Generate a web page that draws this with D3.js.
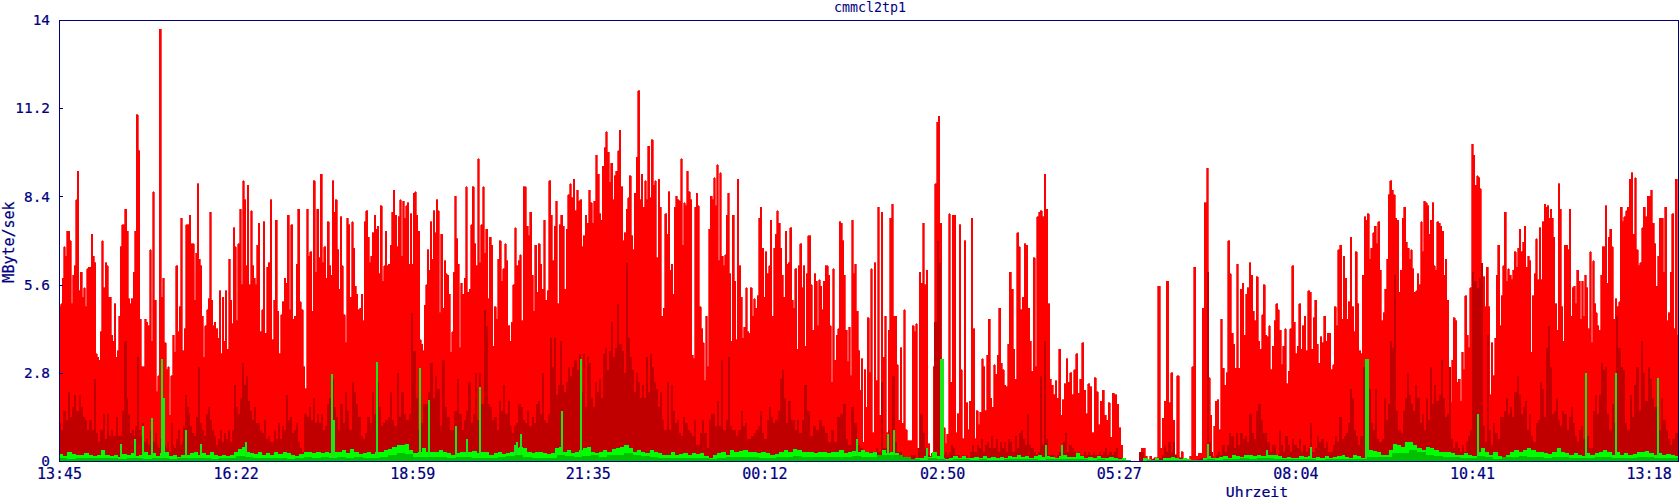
<!DOCTYPE html>
<html>
<head>
<meta charset="utf-8">
<title>cmmcl2tp1</title>
<script src="https://cdn.jsdelivr.net/npm/d3@7"></script>
<style>
  html, body { margin: 0; padding: 0; background: #fff; }
  text { font-family: "DejaVu Sans Mono", monospace; fill: #000080; }
  .heavy text, text.heavy { stroke: #000080; stroke-width: 0.2px; }
</style>
</head>
<body>
<svg id="chart" width="1680" height="500"></svg>
<script>
// Tick labels and values
const timeLabels = ["13:45", "16:22", "18:59", "21:35", "00:12", "02:50", "05:27", "08:04", "10:41", "13:18"];
const yTicks = [0, 2.8, 5.6, 8.4, 11.2, 14];

// Total throughput (MByte/sek), one list per hour of the 24h window
const redByHour = [
  [4.9,5.0,5.8,6.8,6.5,7.3,7.3,7.0,5.0,5.9,6.2,8.3,9.2,5.4,6.0,5.2,5.5,4.9,6.1,6.15,6.15,7.2,6.5,6.3,3.4,3.3,3.2,4.1,7.0,5.5,6.3,6.2,5.2,5.2,4.0,3.8,5.0,3.3,3.5,4.6,6.8,7.5,7.5,8.0],
  [7.3,5.15,5.0,5.15,6.0,7.3,11.0,9.85,4.5,3.0,3.0,4.5,4.4,4.3,6.7,3.8,8.55,5.1,2.2,2.7,13.7,5.2,5.8,3.75,2.9,3.0,1.45,2.7,4.0,3.45,6.2,4.1,4.9,7.7,3.5,4.2,7.5,7.5,7.8,6.9,6.9],
  [5.1,6.6,8.8,6.4,6.2,4.6,3.3,4.3,4.8,5.15,7.9,5.1,4.3,4.4,4.2,3.9,5.4,3.4,5.2,3.8,5.4,3.55,6.4,5.1,4.35,7.4,6.8,4.45,6.9,8.0,5.6,8.9,8.3,6.2,8.75,5.6,7.95,6.2,5.8,5.6,6.85,7.55,4.1],
  [4.8,7.6,4.05,6.15,6.3,8.3,3.85,5.1,7.65,4.75,3.4,4.65,5.05,5.8,5.65,7.8,4.8,7.5,4.5,4.6,6.25,8.0,5.05,4.8,3.0,2.3,8.0,6.5,6.65,4.75,8.9,6.0,8.0,6.45,9.1,6.3,6.8,5.8,7.6],
  [6.2,5.9,8.9,7.9,8.3,6.7,5.45,7.75,6.2,4.65,3.75,7.7,7.5,5.2,7.6,6.75,5.55,5.3,4.8,4.85,5.3,4.45,7.6,7.95,7.1,6.3,6.5,7.25,7.8,7.35,7.45,5.95,8.1,5.7,6.2,7.3,6.2,6.25,6.85,7.9,8.6,7.8],
  [6.8,7.75,8.3,6.5,8.25,7.7,8.1,8.2,6.25,7.85,6.25,8.5,8.55,7.8,7.3,3.85,3.7,3.5,4.95,5.6,6.7,6.05,7.6,6.4,7.95,7.25,8.3,7.95,4.7,7.2,4.85,6.35,5.95,5.9,5.3,3.45,4.1,6.0,8.4,7.05,6.25,3.6,5.65,5.3],
  [5.8,8.7,5.35,5.45,7.5,8.7,6.9,6.2,9.6,6.3,7.5,8.7,6.6,7.35,5.15,7.1,6.85,3.65,4.9,4.5,6.4,7.0,5.7,6.1,6.9,6.35,4.3,3.8,4.4,5.6,7.4,6.2,6.35,6.55,4.45,8.7,8.7,7.45,7.15,7.9],
  [5.9,4.75,6.85,5.35,6.9,6.25,5.45,7.65,5.1,5.4,8.9,7.8,6.35,7.45,8.25,5.0,7.5,7.8,7.45,5.45,7.35,8.45,8.8,8.35,8.95,7.95,8.6,8.25,8.3,6.8,7.15,7.8,7.55,8.6,8.2,7.55,8.25,9.7,9.1],
  [7.85,7.65,9.35,9.95,10.45,9.8,8.85,9.45,8.3,9.05,9.2,9.85,10.5,8.7,7.0,7.25,8.0,8.35,9.05,7.15,6.7,8.5,9.65,11.75,8.3,9.1,8.05,8.9,8.3,10.0,8.35,10.2,8.75,8.9,6.45,8.95,8.05,4.6,4.85,7.85],
  [7.2,8.55,6.05,6.25,5.3,8.05,8.4,8.3,8.25,9.6,6.85,8.2,8.1,9.2,8.55,8.3,3.35,3.25,8.05,8.5,8.1,4.9,4.2,3.75,2.55,4.6,3.0,7.35,8.4,8.3,9.0,8.1,9.4,6.35,9.15,6.5,6.2,6.55,7.8,8.5,5.95,3.8,7.8],
  [5.7,3.85,8.95,6.2,5.2,3.9,4.25,5.5,4.1,4.05,5.5,4.6,5.15,4.85,5.25,7.7,8.05,6.75,5.2,6.65,5.95,6.2,7.65,4.6,6.75,7.2,7.95,7.55,6.75,5.9,5.2,7.3,6.25,6.3,7.4,5.1,4.85,6.1,3.55,6.2,6.9],
  [5.5,6.2,3.65,5.95,7.15,7.15,5.6,4.15,5.95,5.7,4.3,5.75,5.55,4.8,5.7,6.2,6.2,5.9,4.3,2.5,6.1,3.2,4.0,4.2,7.6,7.55,7.0,5.9,4.15,3.15,4.25,2.7,7.65,5.95,6.25,4.75,3.5,2.25,3.25,0.6,2.9,1.7,4.55],
  [2.8,6.1,0.9,6.3,2.55,8.05,1.45,7.9,3.3,4.6,0.9,4.15,7.7,8.15,4.6,4.6,3.05,1.3,3.6,1.2,4.8,1.0,0.65,0.65,0.65,4.3,4.1,4.35,0.4,6.0,5.65,7.55,5.6,6.05,0.55,0.15,0.25,3.0,8.8],
  [10.75,10.95,7.55,1.5,1.05,0.55,0.85,7.85,2.5,7.8,7.8,0.9,1.5,7.5,2.9,0.7,7.0,1.85,1.0,1.9,7.7,4.2,0.7,1.6,1.15,1.55,3.25,3.0,1.6,3.35,4.5,2.0,1.7,3.05,2.75,3.35,4.85,3.1,2.9],
  [2.4,2.35,3.7,6.0,5.45,3.55,2.6,7.25,6.8,4.8,5.2,6.9,6.85,4.85,3.8,2.85,6.45,3.0,7.75,7.9,7.95,7.75,9.1,8.0,5.0,2.6,2.4,2.1,2.55,2.0,3.55,1.45,1.95,2.45,3.25,2.5,2.8],
  [2.1,2.9,3.4,2.15,2.6,3.75,2.25,1.5,2.45,2.35,0.9,2.65,2.2,1.15,1.9,2.25,1.45,1.3,1.85,0.75,2.15,2.1,1.8,1.05,0.5,0,0,0,0,0,0,0,0],
  [0,0.4,0.4,0.15,0.05,0.15,0.05,0.1,0.1,5.55,0.4,1.35,1.9,5.7,1.85,2.8,1.3,0.2,2.7,0.1,0.3,0.02,0.03,0.05,0.15,3.0,6.15,0.15,0.25,0.25,4.85,8.2],
  [9.3,2.65,1.45,0.15,1.1,1.9,1.95,1.0,4.5,2.95,2.4,2.8,7.0,5.95,4.05,3.7,2.95,6.25,2.95,5.45,5.65,4.0,5.3,5.5,6.3,5.9,4.75,4.45,5.85,3.8,3.55,4.65,5.6,4.0,3.95,4.3,2.9,3.65],
  [4.45,5.0,4.8,4.15,3.05,3.65,4.2,2.45,2.85,4.2,6.2,4.4,3.4,3.65,5.0,3.55,4.3,4.6,3.5,5.4,5.35,3.55,4.55,5.1,3.7,3.1,3.95,3.75,4.6,3.8,4.05,4.05,2.9,3.05,4.9,4.3,6.7,6.85],
  [4.5,6.5,5.8,4.5,5.05,7.1,4.9,4.1,6.65,5.0,3.5,3.4,5.9,7.75,7.65,7.85,6.4,6.75,7.25,7.45,6.9,7.6,6.05,4.45,4.7,5.45,6.4,8.45,8.9,8.6,8.45,7.7,7.65,5.35,6.05,7.7,8.05,6.95,6.75],
  [6.4,6.7,6.1,5.35,5.4,5.95,5.6,7.6,6.65,8.25,8.2,8.1,7.2,7.65,8.2,6.2,6.05,7.6,7.55,7.45,7.3,5.9,6.4,5.1,2.9,1.85,3.2,4.55,4.45,2.5,2.6,1.9,3.45,2.9,5.25,4.0,3.6,5.5,10.05,9.7,8.75],
  [9.05,9.0,8.65,5.85,5.85,4.9,6.15,4.9,2.1,3.75,2.7,3.9,5.9,6.85,4.3,5.25,6.2,7.9,5.7,6.1,5.9,5.75,6.05,6.65,6.15,6.75,7.35,6.65,6.95,7.45,6.15,6.5,6.35,3.45,5.25,5.95,7.05,5.75,7.4,5.75,7.6],
  [8.15,8.05,8.1,7.7,8.0,7.7,7.1,5.0,4.15,8.8,8.0,4.9,3.8,6.85,6.85,6.7,8.0,4.6,5.5,5.55,5.0,6.05,5.7,4.5,5.7,4.6,5.9,5.5,4.2,6.65,3.75,6.35,5.0,4.7,4.3,4.15,5.9,6.8,6.8,8.1,5.65,7.1,7.35],
  [6.8,4.5,5.15,4.9,5.05,8.05,7.6,7.75,7.95,8.05,8.95,9.15,7.2,9.0,6.7,6.2,6.3,7.4,8.05,7.75,8.4,8.4,8.6,7.55,6.9,5.55,6.5,7.7,7.7,6.0,8.05,4.45,4.7,6.0,7.85,4.2,8.95,4.0]
];

// Second series (dark red)
const darkRedByHour = [
  [1.2,1.0,1.6,1.3,2.2,1.4,1.7,2.1,1.6,2.1,1.7,1.4,1.3,1.0,1.3,1.0,2.6,0.9,0.6,1.0,1.5,0.7,1.5,0.8,1.0,0.8,1.4,0.8,0.8,1.6,3.8],
  [2.0,1.5,0.9,1.0,0.8,1.1,3.3,1.0,0.8,1.2,0.6,0.7,0.5,1.0,0.5,0.6,0.9,0.5,0.4,0.7,1.3,0.5,0.4,0.6,0.3,1.2,0.5,0.4,0.7,1.0,0.5,0.6,1.1,2.1,1.7,1.5,1.1,0.9],
  [0.8,1.4,3.0,1.2,1.0,0.8,1.5,1.7,1.3,1.0,0.8,0.5,0.7,1.0,0.6,0.9,0.7,1.0,0.6,1.0,2.4,1.7,1.5,2.0,3.1,2.4,2.7,1.9,1.6,1.3,1.7,1.2,1.2,1.0],
  [0.9,1.3,0.7,0.8,0.6,0.6,1.0,0.7,1.2,0.7,1.1,1.0,2.1,1.3,1.4,0.9,1.0,1.2,0.6,0.4,0.3,1.5,1.4,1.7,1.3,2.0,1.2,1.5,1.2,1.5,1.0,1.1,1.8],
  [2.0,2.6,1.7,1.4,1.0,1.8,1.2,2.2,1.6,1.0,2.5,2.2,1.8,1.4,0.8,0.7,0.9,1.4,1.2,2.2,1.5,2.5,1.7,1.1,1.2,1.3,1.4,2.2,1.3,1.1],
  [2.8,1.4,2.2,1.5,1.3,1.5,4.7,3.5,2.0,1.0,1.2,1.8,1.8,2.2,3.1,2.0,2.7,2.3,1.1,3.2,1.7,1.4,1.0,1.0,1.6,2.6,1.5,1.0],
  [1.3,1.6,2.5,1.2,1.5,2.8,1.3,2.8,1.8,4.8,4.3,1.8,1.7,1.3,1.4,1.0,1.9,1.6,2.4,1.5,1.9,1.1,0.9,1.1,1.2,1.8,1.7,1.3,1.2,1.6,1.1],
  [1.4,1.2,1.8,1.9,1.5,2.8,1.3,1.2,1.5,3.9,3.0,3.9,2.1,2.4,3.8,2.4,2.2,2.5,3.0,2.7,3.0,3.2,2.9,3.4,2.2,3.4,1.7,3.3,3.1,2.0,1.7,2.5,2.2],
  [2.6,2.0,3.4,3.6,2.9,3.5,4.4,3.3,3.6,5.0,3.7,3.5,2.8,6.3,3.9,3.3,2.9,2.2,2.8,2.5,2.0,2.4,2.0,3.3,2.2,3.4,3.0,2.5,2.3,1.7,2.2,1.3,1.0],
  [2.5,1.0,2.4,1.6,1.2,1.3,0.9,0.8,1.4,1.2,1.0,0.9,0.8,1.3,0.5,0.5,0.9,1.3,0.9,0.4,1.3,1.5,1.5,1.1,1.9,1.1,3.2,1.0,1.3,3.3,1.1,1.0],
  [1.0,0.8,1.0,1.6,1.1,1.2,0.7,0.7,0.8,0.9,1.0,1.1,1.6,0.9,0.7,1.3,1.7,1.4,1.2,1.3,1.6,2.6,2.9,2.0,1.2,1.9,1.3,1.3,1.0,1.3,0.9],
  [1.3,2.4,1.6,0.8,1.1,1.0,1.3,1.1,0.9,0.6,1.0,0.6,1.4,1.5,1.8,0.7,0.5,1.7,1.2,0.5,0.4,0.3,0.3],
  [0.3,0.3,0.2,0.4,0.3,2.5,0.4,0.4,1.0,0.3,2.7,0.6,0.3,0.3,0.2,0.1,0.1,0.1,0.2,0.2,0.1,0.4,1.5,0.9,0.4,0.2,0.1,0.1,4.4],
  [7.0,6.3,1.0,0.2,0.3,0.2,0.3,0.5,0.4,0.2,0.2,0.1,0.2,0.1,0.2,0.1,0.3,0.5,0.3,0.5,0.4,0.7,0.3,0.5,0.6,0.4,0.8,0.4,0.7,0.3,0.6,0.4],
  [0.6,0.3,0.7,0.6,0.3,0.8,0.4,0.9,1.0,0.7,0.5,1.5,0.5,0.4,0.3,0.2,0.3,2.7,0.5,3.8,0.7,0.2,0.2,0.2,0.1,0.2,0.3,0.2,0.6,0.9,0.3,0.5],
  [0.4,0.3,0.2,0.3,0.2,0.2,0.3,0.2,0.3,0.2,0.3,0.2,0.2,0.3,0.2,0.3,0.4,0.2,0.3,0.2,0.3,0.4,0.1,0.1,0,0,0,0,0,0,0,0],
  [0.3,0.3,0.1,0,0,0,0.05,0.1,0.05,0.1,0.2,0.5,0.3,0.6,0.3,0.6,0.2,0.1,0.1,0.05,0,0,0,0,0,0,0.05,0.1,0.1,0.1],
  [6.0,0.6,0.3,0.1,0.2,0.3,0.2,0.5,0.3,0.5,0.9,0.8,0.4,0.9,0.5,0.9,0.7,0.8,0.6,1.5,0.9,0.7,1.6,1.8,1.3,0.9,0.9,0.6,0.3,0.5],
  [0.5,0.2,1.0,0.5,0.3,0.8,0.5,0.3,0.7,0.5,0.4,0.7,0.3,0.5,0.3,0.4,1.2,0.3,0.4,0.8,0.6,0.7,0.4,0.6,0.3,0.3,0.5,0.8,0.6,1.4],
  [0.7,0.8,0.9,1.2,2.3,2.0,1.0,0.8,0.5,0.8,3.0,2.1,3.2,2.3,1.2,1.0,2.3,0.7,0.6,0.7,2.0,1.3,1.8,3.8,3.6,5.9,1.6,1.0,0.9,1.6,2.0,2.8],
  [2.1,1.8,1.6,2.4,2.0,1.2,1.5,1.0,2.0,1.3,3.0,1.8,2.4,1.9,2.1,3.2,2.0,1.4,1.5,3.0,0.7,0.4,0.6,0.4,0.3,0.5,0.3,0.6,0.8,1.0,6.0,5.7],
  [5.5,5.8,6.3,1.1,0.6,4.0,1.0,0.5,1.2,0.9,0.7,1.4,1.4,1.6,2.0,1.5,1.7,1.4,2.2,2.7,2.1,1.5,1.7,1.9,1.0,1.5,0.8,0.6,1.2,1.3,2.5,2.3],
  [1.4,3.6,4.3,3.0,1.5,1.6,2.0,1.3,1.1,1.6,1.5,1.0,1.4,1.7,1.2,0.8,0.6,1.0,1.1,0.7,0.6,0.8,0.4,0.4,1.6,2.1,1.5,2.1,3.1,2.9,3.0,1.5,1.0],
  [1.8,1.2,4.6,3.6,3.0,2.9,1.2,1.0,2.1,1.4,2.4,3.0,1.6,3.8,2.8,1.9,3.0,2.6,2.0,1.7,1.2,1.0,2.0,1.3,1.0,0.7,0.5,0.7,0.9,0.9]
];

// Bright green series
const greenByHour = [
  [.22,.15,.28,.22,.18,.2,.25,.2,.15,.18,.35,.2,.15,.2,.12,.22],
  [.2,.25,.15,.18,.3,.2,.25,.15,.25,.3,.15,.2,.12,.18,.2,.25],
  [.28,.2,.25,.18,.28,.2,.15,.18,.15,.2,.3,.38,.45,.3,.25,.22,.28],
  [.2,.25,.2,.3,.22,.28,.25,.18,.15,.22,.3,.28,.25,.3,.25,.3],
  [.25,.3,.28,.35,.25,.38,.3,.22,.25,.3,.22,.28,.3,.35,.38,.45],
  [.5,.5,.55,.35,.25,.3,.4,.3,.28,.3,.35,.3,.25,.2,.25,.3],
  [.3,.28,.32,.25,.28,.3,.2,.25,.3,.22,.25,.28,.4,.45,.4,.3],
  [.25,.3,.28,.25,.22,.25,.4,.45,.3,.35,.25,.3,.35,.4,.45,.3,.25],
  [.3,.35,.3,.38,.4,.45,.5,.4,.3,.35,.3,.25,.35,.3,.25,.2],
  [.2,.3,.2,.22,.25,.2,.25,.22,.25,.15,.1,.2,.25,.3,.2,.35],
  [.3,.32,.35,.3,.28,.25,.3,.25,.2,.22,.3,.35,.3,.38,.35],
  [.3,.28,.3,.25,.3,.28,.25,.3,.3,.35,.25,.3,.32,.3,.35,.3],
  [.25,.3,.2,.35,.25,.3,.25,.2,.1,.1,.05,.08,.1,.15,.12,.3],
  [.15,.08,.05,.1,.15,.1,.15,.1,.08,.12,.1,.15,.1,.12,.08,.12],
  [.1,.15,.12,.2,.12,.15,.1,.15,.2,.12,.15,.12,.1,.15,.2,.12],
  [.12,.25,.15,.1,.12,.1,.15,.08,.1,.12,.08,.05,.08,0,0,0],
  [0,.1,.05,0,.08,.03,.1,.08,.12,.1,.05,.08,.05,.02,.02,.03,.08],
  [.15,.1,.08,.12,.15,.1,.2,.15,.12,.18,.2,.15,.2,.15,.18,.2],
  [.18,.15,.1,.12,.08,.1,.15,.12,.15,.1,.12,.08,.15,.1,.12,.15],
  [.18,.12,.1,.2,.15,.1,.12,.35,.32,.3,.2,.18,.35,.55,.5,.45,.6],
  [.6,.5,.4,.35,.45,.4,.35,.3,.28,.3,.25,.2,.2,.25,.2,.15],
  [.3,.4,.3,.2,.3,.15,.1,.2,.3,.35,.3,.35,.4,.35,.3,.3],
  [.25,.22,.3,.4,.3,.25,.2,.25,.2,.15,.25,.2,.25,.3,.35,.3],
  [.2,.3,.2,.25,.2,.22,.28,.3,.32,.25,.2,.25,.2,.22,.2,.15]
];

// Dark green series
const darkGreenByHour = [
  [.1,.06,.1,.08,.08,.1,.08,.06],[.08,.1,.07,.1,.1,.07,.08,.1],[.1,.08,.07,.08,.1,.16,.14,.1],[.1,.1,.09,.07,.1,.12,.1,.12],
  [.1,.12,.1,.14,.1,.1,.12,.18],[.25,.22,.14,.12,.14,.12,.1,.12],[.12,.1,.1,.1,.12,.16,.18,.12],[.1,.1,.1,.18,.15,.12,.15,.18],
  [.14,.18,.2,.25,.2,.15,.14,.1],[.1,.1,.1,.1,.08,.05,.1,.12],[.14,.14,.12,.1,.1,.14,.14,.16],[.12,.12,.12,.14,.12,.14,.16,.14],
  [.12,.18,.2,.18,.12,.05,.04,.08],[.05,.03,.05,.05,.04,.05,.04,.04],[.05,.05,.06,.05,.04,.05,.06,.05],[.05,.06,.04,.05,.04,.03,.02,0],
  [0,.02,.03,.03,.04,.03,.02,.02],[.05,.04,.06,.06,.08,.07,.08,.08],[.07,.05,.05,.05,.05,.04,.05,.06],[.06,.05,.05,.14,.12,.12,.25,.25],
  [.35,.28,.2,.16,.14,.12,.1,.08],[.15,.12,.06,.14,.14,.16,.14,.12],[.1,.14,.12,.1,.08,.1,.14,.12],[.1,.1,.1,.14,.12,.1,.1,.08]
];

// Isolated green peaks
const spikeMinutes = [54, 67, 74, 82, 90.5, 92, 112, 125, 165, 242, 243.5, 282, 320, 328, 352, 362, 373, 404, 406, 410, 446, 463, 708, 736, 741, 771, 783, 784.5, 876, 891, 1020, 1073, 1112, 1161, 1162.5, 1260, 1356, 1383, 1420];
const spikeValues = [0.55, 0.7, 1.1, 1.35, 3.25, 2.0, 1.0, 0.55, 0.6, 2.75, 1.3, 3.15, 2.95, 1.95, 1.1, 0.7, 2.35, 0.5, 0.6, 0.85, 1.6, 3.25, 0.7, 0.85, 1.0, 0.4, 3.25, 3.25, 0.5, 0.5, 0.55, 0.35, 0.45, 3.25, 3.25, 1.5, 2.8, 2.8, 2.65];

const navy = "#000080";
const margin = { top: 20, right: 1, bottom: 39, left: 59 };
const width = 1680, height = 500;

const svg = d3.select("#chart");

const x = d3.scaleLinear().domain([0, 1440]).range([margin.left, width - margin.right]);
const y = d3.scaleLinear().domain([0, 14]).range([height - margin.bottom, margin.top]);

// hour lists -> points along the minute axis
function toPoints(byHour) {
  const pts = [];
  byHour.forEach((list, h) => {
    list.forEach((v, i) => pts.push({ t: 60 * (h + i / list.length), v: v }));
  });
  pts.push({ t: 1440, v: byHour[byHour.length - 1].slice(-1)[0] });
  return pts;
}

const area = d3.area()
  .x(d => x(d.t))
  .y0(y(0))
  .y1(d => y(d.v))
  .curve(d3.curveStepAfter);

function drawSeries(byHour, color, thicken) {
  const p = svg.append("path")
    .attr("d", area(toPoints(byHour)))
    .attr("fill", color)
    .attr("shape-rendering", "crispEdges");
  // the original peaks are about 2px wide and the gaps 1px
  if (thicken) p.attr("stroke", color).attr("stroke-width", thicken);
}

drawSeries(redByHour, "#ff0000", 0.7);
drawSeries(darkRedByHour, "#c00000");
drawSeries(greenByHour, "#00ff00");

// green peaks sit over the bright band
svg.append("g").selectAll("rect")
  .data(spikeMinutes)
  .join("rect")
  .attr("x", d => x(d))
  .attr("y", (d, i) => y(spikeValues[i]))
  .attr("width", 2)
  .attr("height", (d, i) => y(0) - y(spikeValues[i]))
  .attr("fill", "#18e818")
  .attr("shape-rendering", "crispEdges");

drawSeries(darkGreenByHour, "#00c000");

// Clear what the thickened red spills under the baseline and left of the axis
svg.append("rect").attr("x", 0).attr("y", y(0)).attr("width", width).attr("height", 3).attr("fill", "#fff");
svg.append("rect").attr("x", x(0) - 3).attr("y", y(14)).attr("width", 3).attr("height", y(0) - y(14)).attr("fill", "#fff");
svg.append("rect").attr("x", x(1440)).attr("y", y(14)).attr("width", 1).attr("height", y(0) - y(14)).attr("fill", "#fff");

// Frame
svg.append("rect")
  .attr("x", x(0) + 0.5)
  .attr("y", y(14) + 0.5)
  .attr("width", x(1440) - x(0) - 1)
  .attr("height", y(0) - y(14))
  .attr("fill", "none")
  .attr("stroke", navy)
  .attr("shape-rendering", "crispEdges");

// Axes
const minutesOf = label => {
  const [h, m] = label.split(":").map(Number);
  return ((h * 60 + m) - (13 * 60 + 45) + 1440) % 1440;
};
const labelTicks = timeLabels.map(minutesOf);

const gx = svg.append("g")
  .attr("class", "heavy")
  .attr("transform", `translate(0,${y(0)})`)
  .call(d3.axisBottom(x).tickValues(labelTicks).tickSize(0).tickPadding(0)
    .tickFormat((d, i) => timeLabels[i]));
gx.select(".domain").remove();
gx.selectAll("text")
  .attr("font-size", 15).attr("font-family", "DejaVu Sans Mono")
  .attr("dy", null).attr("y", 18);

const gy = svg.append("g")
  .attr("class", "heavy")
  .attr("transform", `translate(${x(0)},0)`)
  .call(d3.axisLeft(y).tickValues(yTicks).tickSize(-4).tickPadding(9)
    .tickFormat(d => String(d)));
gy.select(".domain").remove();
gy.selectAll("line").attr("stroke", navy).attr("shape-rendering", "crispEdges");
gy.selectAll("text")
  .attr("font-size", 14.4).attr("font-family", "DejaVu Sans Mono");

// Titles
svg.append("text")
  .attr("x", 870).attr("y", 12)
  .attr("text-anchor", "middle")
  .attr("font-size", 13.3)
  .text("cmmcl2tp1");

svg.append("text")
  .attr("class", "heavy")
  .attr("x", 1257).attr("y", 497)
  .attr("text-anchor", "middle")
  .attr("font-size", 14.8)
  .text("Uhrzeit");

svg.append("text")
  .attr("class", "heavy")
  .attr("transform", "translate(14,242) rotate(-90)")
  .attr("text-anchor", "middle")
  .attr("font-size", 15)
  .text("MByte/sek");
</script>
</body>
</html>
